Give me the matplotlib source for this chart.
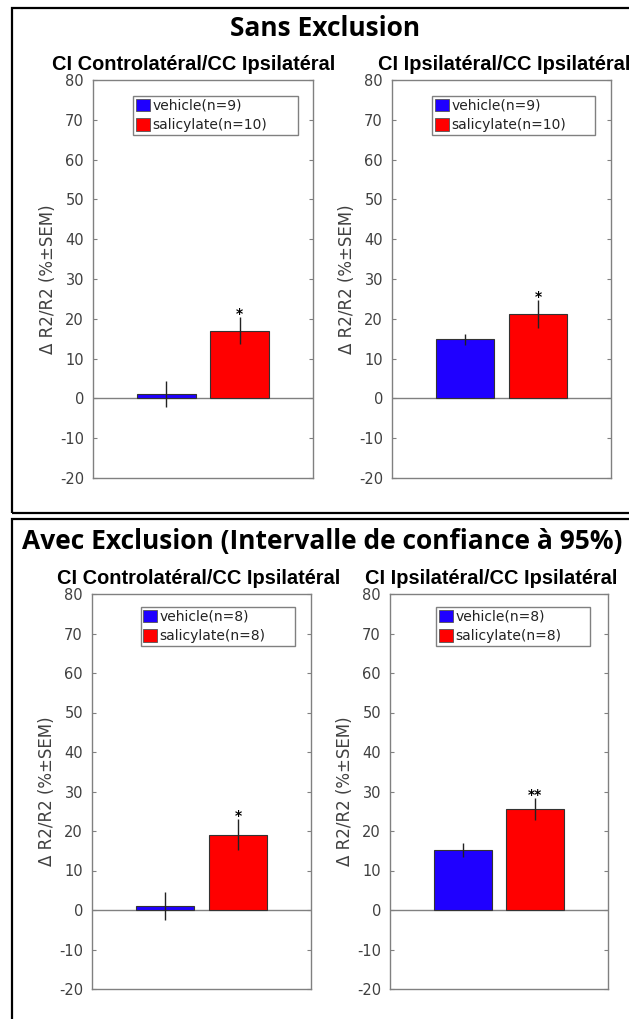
"""Two framed panels of bar charts: delta R2/R2 for vehicle vs salicylate, with and without exclusion."""

import matplotlib

matplotlib.use("Agg")
import matplotlib.pyplot as plt  # noqa: E402
from matplotlib.patches import Rectangle  # noqa: E402

plt.rcParams["axes.unicode_minus"] = False

W, H = 629, 1019

groups = ["vehicle", "salicylate"]
n_sans = [9, 10]
n_avec = [8, 8]

subplot_titles = ["CI Controlatéral/CC Ipsilatéral", "CI Ipsilatéral/CC Ipsilatéral"]

sans_contra_mean = [1.1, 17.0]
sans_contra_sem = [3.2, 3.4]
sans_ipsi_mean = [14.8, 21.3]
sans_ipsi_sem = [1.5, 3.5]

avec_contra_mean = [1.0, 19.1]
avec_contra_sem = [3.6, 3.9]
avec_ipsi_mean = [15.1, 25.6]
avec_ipsi_sem = [1.8, 2.7]

sans_stars = [["", "*"], ["", "*"]]
avec_stars = [["", "*"], ["", "**"]]

yticks = list(range(-20, 81, 10))
bar_colors = ["#1f00ff", "#ff0000"]
GRAY = "#808080"
TICK_COLOR = "#404040"


def px_axes(fig, x0, x1, y0, y1):
    # pixel box (y from top) -> figure axes
    return fig.add_axes([x0 / W, 1 - y1 / H, (x1 - x0) / W, (y1 - y0) / H])


def draw_panel(ax, means, sems, stars, ns, leg_x, leg_top, leg_w):
    x = [1, 2]
    ax.bar(x, means, width=0.8, color=bar_colors, edgecolor="#333333", linewidth=0.8, zorder=2)
    ax.errorbar(x, means, yerr=sems, fmt="none", ecolor="#222222", elinewidth=1.0, capsize=0, zorder=3)
    ax.axhline(0, color=GRAY, lw=1.0, zorder=1)
    for xi, m, s, st in zip(x, means, sems, stars):
        if st:
            ax.text(xi, m + s - 0.3, st, ha="center", va="baseline", fontsize=10,
                    fontweight="bold", color="black")

    ax.set_xlim(0, 3)
    ax.set_ylim(-20, 80)
    ax.set_xticks([])
    ax.set_yticks(yticks)
    ax.tick_params(axis="y", direction="in", length=3, width=0.8, color=GRAY,
                   labelcolor=TICK_COLOR, labelsize=10.5, pad=6.5, right=True)
    for sp in ax.spines.values():
        sp.set_color(GRAY)
        sp.set_linewidth(1.0)
    ax.set_ylabel("Δ R2/R2 (%±SEM)", fontsize=12, color=TICK_COLOR)
    ax.yaxis.set_label_coords(-0.165, 0.5)

    handles = [Rectangle((0, 0), 1, 1, facecolor=c, edgecolor="#555555", lw=0.6) for c in bar_colors]
    labels = [f"{g}(n={n})" for g, n in zip(groups, ns)]
    leg = ax.legend(handles, labels, loc="upper left",
                    bbox_to_anchor=(leg_x, leg_top - 0.1, leg_w, 0.1), mode="expand",
                    borderaxespad=0, fontsize=10, handlelength=1.0, handleheight=1.0,
                    handletextpad=0.17, labelspacing=0.4, borderpad=0.2, fancybox=False,
                    framealpha=1, edgecolor=GRAY)
    leg.get_frame().set_linewidth(1.0)
    for t in leg.get_texts():
        t.set_color("#222222")


fig = plt.figure(figsize=(W / 100, H / 100), dpi=100)

# frames around each block
fig.add_artist(Rectangle((12 / W, 1 - 513 / H), (660 - 12) / W, (513 - 8) / H,
                         transform=fig.transFigure, fill=False, ec="black", lw=1.6))
fig.add_artist(Rectangle((12 / W, 1 - 1040 / H), (660 - 12) / W, (1040 - 519) / H,
                         transform=fig.transFigure, fill=False, ec="black", lw=1.6))

fig.text(325.5 / W, 1 - 28 / H, "Sans Exclusion", ha="center", va="center",
         fontsize=19, fontweight="bold", family="Open Sans")
fig.text(22 / W, 1 - 542 / H, "Avec Exclusion (Intervalle de confiance à 95%)", ha="left",
         va="center", fontsize=19, fontweight="bold", family="Open Sans")

ax1 = px_axes(fig, 93, 313, 80, 478)
draw_panel(ax1, sans_contra_mean, sans_contra_sem, sans_stars[0], n_sans, 0.183, 0.96, 0.75)
ax2 = px_axes(fig, 392, 611, 80, 478)
draw_panel(ax2, sans_ipsi_mean, sans_ipsi_sem, sans_stars[1], n_sans, 0.183, 0.96, 0.745)
ax3 = px_axes(fig, 92, 311, 594, 989)
draw_panel(ax3, avec_contra_mean, avec_contra_sem, avec_stars[0], n_avec, 0.222, 0.967, 0.703)
ax4 = px_axes(fig, 390, 608, 594, 989)
draw_panel(ax4, avec_ipsi_mean, avec_ipsi_sem, avec_stars[1], n_avec, 0.212, 0.967, 0.704)

title_font = dict(family="Liberation Sans", fontweight="bold", color="black", va="center",
                  ha="left", fontsize=14.4)
fig.text(52 / W, 1 - 64 / H, subplot_titles[0], **title_font)
fig.text(378 / W, 1 - 64 / H, subplot_titles[1], **title_font)
fig.text(57 / W, 1 - 578 / H, subplot_titles[0], **title_font)
fig.text(365 / W, 1 - 578 / H, subplot_titles[1], **title_font)

fig.savefig("out.png", dpi=100)
plt.close(fig)
